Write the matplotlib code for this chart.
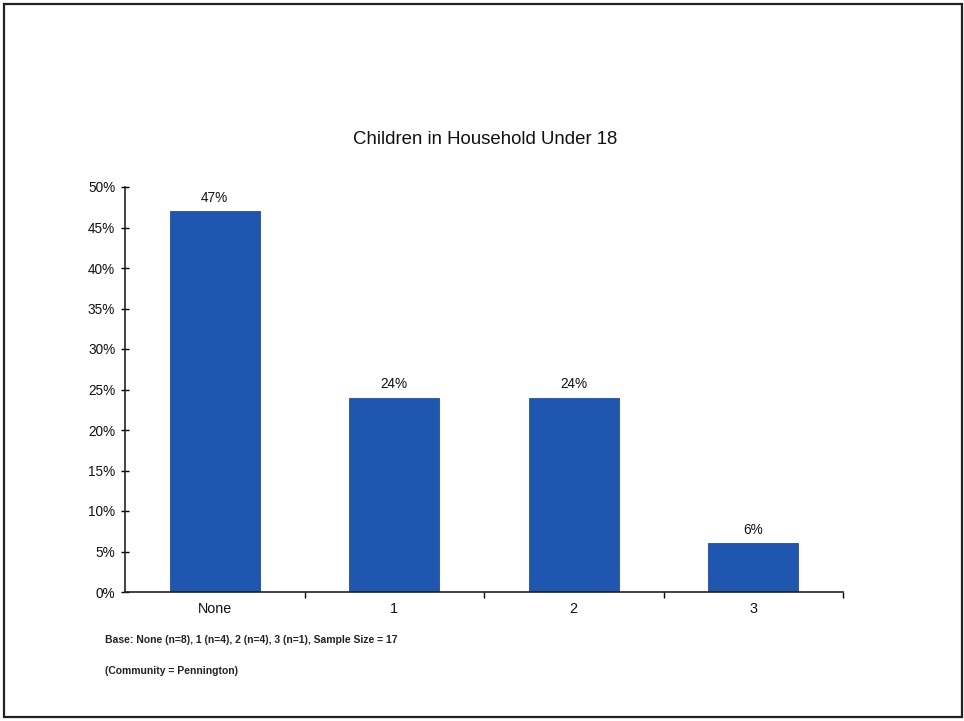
import matplotlib
matplotlib.use("Agg")
import matplotlib.pyplot as plt
from matplotlib.patches import Rectangle
from matplotlib.ticker import FixedLocator

categories = ["None", "1", "2", "3"]
values = [47, 24, 24, 6]
labels = ["47%", "24%", "24%", "6%"]
yticks = [0, 5, 10, 15, 20, 25, 30, 35, 40, 45, 50]
title = "Children in Household Under 18"
note1 = "Base: None (n=8), 1 (n=4), 2 (n=4), 3 (n=1), Sample Size = 17"
note2 = "(Community = Pennington)"

plt.rcParams['font.family'] = ['Liberation Sans', 'DejaVu Sans']

fig = plt.figure(figsize=(9.64, 7.21), dpi=100)
fig.add_artist(Rectangle((4/964, 4/721), 958/964, 713/721, transform=fig.transFigure,
                         fill=False, edgecolor='#222222', linewidth=1.6))

ax = fig.add_axes([125/964, 1 - 592/721, 718/964, 405/721])
x = list(range(len(categories)))
ax.bar(x, values, width=0.5, color='#1E56B0', edgecolor='#1A4FA6', linewidth=0.6)
for xi, v, lab in zip(x, values, labels):
    ax.text(xi, v + 0.8, lab, ha='center', va='bottom', fontsize=9.8, color='#111111')

ax.set_xlim(-0.5, 3.5)
ax.set_ylim(0, 50)
ax.set_yticks(yticks)
ax.set_yticklabels([f"{t}%" for t in yticks], fontsize=9.8, color='#111111')
ax.set_xticks(x)
ax.set_xticklabels(categories, fontsize=10.3, color='#111111')
ax.tick_params(axis='x', which='major', length=0, pad=7)
ax.xaxis.set_minor_locator(FixedLocator([0.5, 1.5, 2.5, 3.5]))
ax.tick_params(axis='x', which='minor', length=4, direction='out', width=1)
ax.tick_params(axis='y', length=6, direction='inout', width=1, pad=4)
for s in ['top', 'right']:
    ax.spines[s].set_visible(False)
for s in ['left', 'bottom']:
    ax.spines[s].set_linewidth(1.2)
    ax.spines[s].set_color('#222222')

fig.text(485/964, 1 - 140/721, title, ha='center', va='center', fontsize=13.4, color='#111111')
fig.text(105/964, 1 - 640/721, note1, ha='left', va='center', fontsize=7.5,
         fontweight='bold', color='#222222')
fig.text(105/964, 1 - 671/721, note2, ha='left', va='center', fontsize=7.5,
         fontweight='bold', color='#222222')

fig.savefig("out.png", dpi=100)
